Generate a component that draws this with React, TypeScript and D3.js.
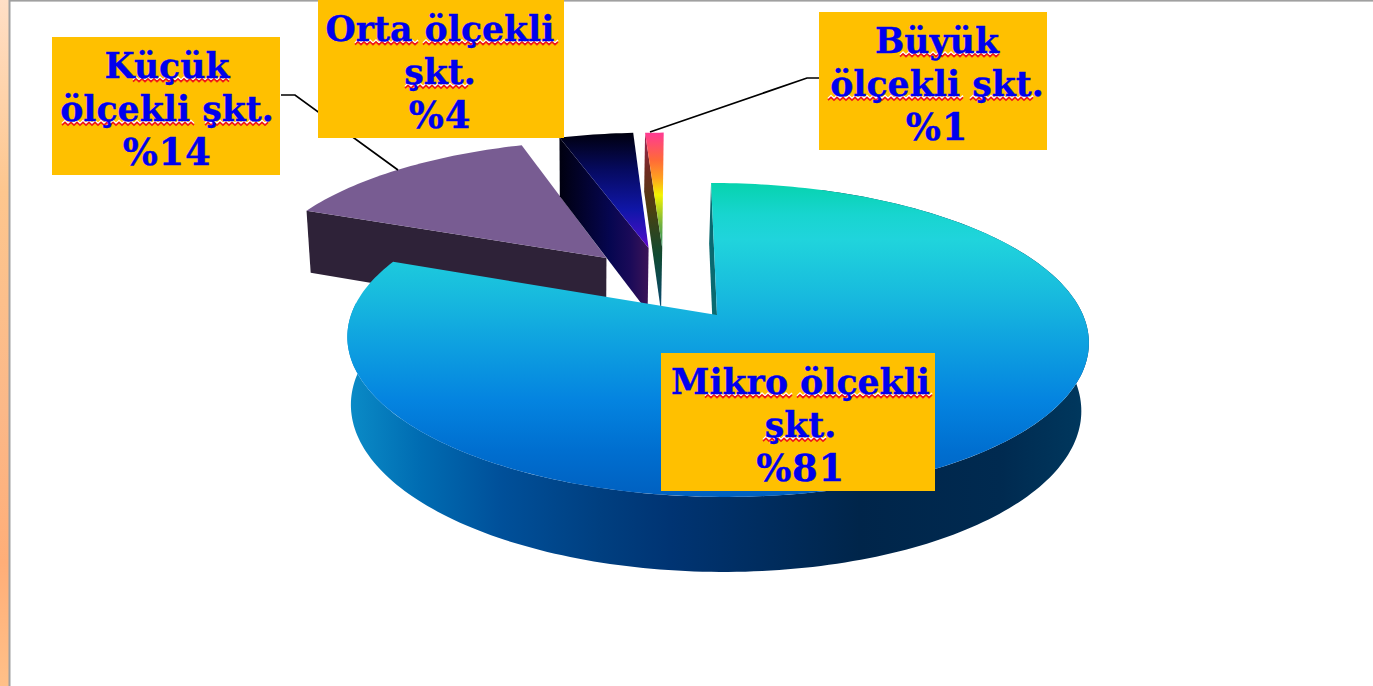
import React from "react";
import * as d3 from "d3";

const categories = ["Mikro ölçekli skt.", "Küçük ölçekli skt.", "Orta ölçekli skt.", "Büyük ölçekli skt."];
const shares = [81, 14, 4, 1];
// Explosion of each slice on the pie plane (pie radius = 1): sideways, then front/back
const explodeU = [0, -0.3136, -0.192, -0.152];
const explodeV = [0, -0.396, -0.4708, -0.4708];

const labelLines = [
  ["Mikro ölçekli", "şkt.", "%81"],
  ["Küçük", "ölçekli şkt.", "%14"],
  ["Orta ölçekli", "şkt.", "%4"],
  ["Büyük", "ölçekli şkt.", "%1"],
];
const labelBoxes = [
  { x: 661, y: 353, w: 274, h: 138, cx: 800.5 },
  { x: 52, y: 37, w: 228, h: 138, cx: 167 },
  { x: 318, y: 0, w: 246, h: 138, cx: 440 },
  { x: 819, y: 12, w: 228, h: 138, cx: 937 },
];
const squiggles = [
  [[0, 705, 793], [0, 797, 933], [1, 763, 826]],
  [[0, 133, 230], [1, 62, 193], [1, 205, 268]],
  [[0, 355, 419], [0, 423, 558], [1, 405, 468]],
  [[0, 900, 1000], [1, 828, 964], [1, 970, 1033]],
];
const leaders = [
  [[281, 95], [295, 95], [398, 170]],
  [[650, 132], [807, 78], [819, 78]],
];

const topStops: [number, string][] = [[183, "#06d3ae"], [215, "#18d5d0"], [240, "#20d4dc"], [300, "#17b8de"], [345, "#0ea0e0"], [400, "#0484e0"], [450, "#006fd0"], [497, "#0060c0"]];
const wallStops: [number, string][] = [[352, "#0a8ac6"], [420, "#006cb2"], [500, "#00509a"], [600, "#003f80"], [670, "#003473"], [860, "#00254a"], [1000, "#002a50"], [1085, "#00385e"]];
const ortaTopStops: [number, string][] = [[134, "#000010"], [170, "#060a60"], [210, "#1016a8"], [235, "#3a10c0"], [250, "#6a00d0"]];
const ortaWallStops: [number, string][] = [[560, "#000010"], [610, "#060650"], [630, "#1a0a58"], [649, "#3c1458"]];
const buyukTopStops: [number, string][] = [[134, "#ff3c90"], [160, "#ff6a38"], [178, "#ffa020"], [195, "#f4f400"], [225, "#70b040"], [255, "#10806a"], [300, "#4080c0"]];
const buyukWallStops: [number, string][] = [[134, "#a02858"], [170, "#702a20"], [210, "#4a4010"], [255, "#104a30"], [305, "#0a4a70"]];

const CX = 717, CY = 315, RX = 366, RY = 153, K = 0.159, DEPTH = 66.8, SKEW = 0.045;

type Pt = [number, number];
const persp = (v: number) => 1 / (1 - K * v);
const top = (u: number, v: number): Pt => {
  const s = persp(v);
  const y = RY * v * s;
  return [CX + RX * u * s + y * SKEW, CY + y];
};
const bot = (u: number, v: number): Pt => {
  const s = persp(v);
  const [x, y] = top(u, v);
  return [CX + (x - CX) * 0.985 - 2, y + DEPTH * (0.35 + 0.65 * s)];
};
const rim = (a: number, du: number, dv: number): [number, number] => [Math.sin(a) + du, -Math.cos(a) + dv];

const arcs = d3.pie<number>().sort(null).startAngle(0).endAngle(2 * Math.PI)(shares);
const line = d3.line<Pt>();

function ringPoints(a0: number, a1: number, du: number, dv: number, fn: (u: number, v: number) => Pt): Pt[] {
  const n = Math.max(4, Math.ceil((a1 - a0) / 0.02));
  return d3.range(n + 1).map((i) => {
    const [u, v] = rim(a0 + ((a1 - a0) * i) / n, du, dv);
    return fn(u, v);
  });
}
const topFace = (i: number) => {
  const a = arcs[i];
  return line([top(explodeU[i], explodeV[i]), ...ringPoints(a.startAngle, a.endAngle, explodeU[i], explodeV[i], top)]) + "Z";
};
const startWall = (i: number) => {
  const a = arcs[i];
  const [u, v] = rim(a.startAngle, explodeU[i], explodeV[i]);
  const cu = explodeU[i], cv = explodeV[i];
  return line([top(u, v), top(cu, cv), bot(cu, cv), bot(u, v)]) + "Z";
};
const outerWall = (i: number) => {
  const a = arcs[i];
  const t = ringPoints(a.startAngle + 0.35, a.endAngle - 0.3, explodeU[i], explodeV[i], top);
  const b = ringPoints(a.startAngle + 0.35, a.endAngle - 0.3, explodeU[i], explodeV[i], bot);
  return line([...t, ...b.reverse()]) + "Z";
};
const zigzag = (x0: number, x1: number, y: number) =>
  line(d3.range(Math.round((x1 - x0) / 3) + 1).map((k): Pt => [x0 + k * 3, y + (k % 2 ? -1.4 : 1.4)]));

const Grad = ({ id, stops, axis }: { id: string; stops: [number, string][]; axis: "x" | "y" }) => {
  const a = stops[0][0], b = stops[stops.length - 1][0];
  const pos = d3.scaleLinear().domain([a, b]).range([0, 100]);
  return (
    <linearGradient id={id} gradientUnits="userSpaceOnUse"
      x1={axis === "x" ? a : 0} x2={axis === "x" ? b : 0} y1={axis === "y" ? a : 0} y2={axis === "y" ? b : 0}>
      {stops.map(([p, c], i) => <stop key={i} offset={`${pos(p)}%`} stopColor={c} />)}
    </linearGradient>
  );
};

export default function App() {
  return (
    <svg width={1373} height={686} viewBox="0 0 1373 686"
      style={{ position: "absolute", left: 0, top: 0, display: "block", background: "#fff" }}>
      <defs>
        <Grad id="gTop" stops={topStops} axis="y" />
        <Grad id="gWall" stops={wallStops} axis="x" />
        <Grad id="gOrtaTop" stops={ortaTopStops} axis="y" />
        <Grad id="gOrtaWall" stops={ortaWallStops} axis="x" />
        <Grad id="gBuyukTop" stops={buyukTopStops} axis="y" />
        <Grad id="gBuyukWall" stops={buyukWallStops} axis="y" />
        <linearGradient id="gStrip" x1="0" x2="0" y1="0" y2="1">
          <stop offset="0%" stopColor="#ffdfc6" />
          <stop offset="28%" stopColor="#fdc68e" />
          <stop offset="60%" stopColor="#fbb888" />
          <stop offset="82%" stopColor="#ffae78" />
          <stop offset="100%" stopColor="#ffc088" />
        </linearGradient>
      </defs>

      <rect x={0} y={0} width={9} height={686} fill="url(#gStrip)" />
      <rect x={8.5} y={0} width={2} height={686} fill="#a0a0a0" />
      <rect x={9} y={0} width={1364} height={1.6} fill="#a0a0a0" />

      <path d={startWall(1)} fill="#2e2238" />
      <path d={topFace(1)} fill="#785c92" />
      <path d={startWall(2)} fill="url(#gOrtaWall)" />
      <path d={topFace(2)} fill="url(#gOrtaTop)" />
      <path d={startWall(3)} fill="url(#gBuyukWall)" />
      <path d={topFace(3)} fill="url(#gBuyukTop)" />
      <path d={outerWall(0)} fill="url(#gWall)" />
      <path d={startWall(0)} fill="#0a6a70" />
      <path d={topFace(0)} fill="url(#gTop)" />

      {leaders.map((pts, i) => (
        <path key={i} d={line(pts as Pt[]) ?? ""} fill="none" stroke="#000" strokeWidth={1.7} />
      ))}

      {categories.map((name, i) => {
        const b = labelBoxes[i];
        return (
          <g key={name}>
            <rect x={b.x} y={b.y} width={b.w} height={b.h} fill="#ffc000" />
            {squiggles[i].map(([ln, x0, x1], j) => {
              const y = b.y + 40 + ln * 43.5 + 1.6;
              return (
                <g key={j} fill="none">
                  <path d={zigzag(x0, x1, y) ?? ""} stroke="#fff" strokeWidth={1.7} />
                  <path d={zigzag(x0, x1, y + 1.7) ?? ""} stroke="#f01818" strokeWidth={1.6} />
                </g>
              );
            })}
            {labelLines[i].map((t, j) => (
              <text key={j} x={b.cx} y={b.y + 40.5 + j * 43.5} textAnchor="middle"
                fontFamily="'DejaVu Serif'" fontWeight="bold" fontSize={j === 2 ? 37 : 34.7} letterSpacing={j === 2 ? 0.7 : 0}
                stroke="#0000ee" strokeWidth={0.35} fill="#0000ee">{t}</text>
            ))}
          </g>
        );
      })}
    </svg>
  );
}
